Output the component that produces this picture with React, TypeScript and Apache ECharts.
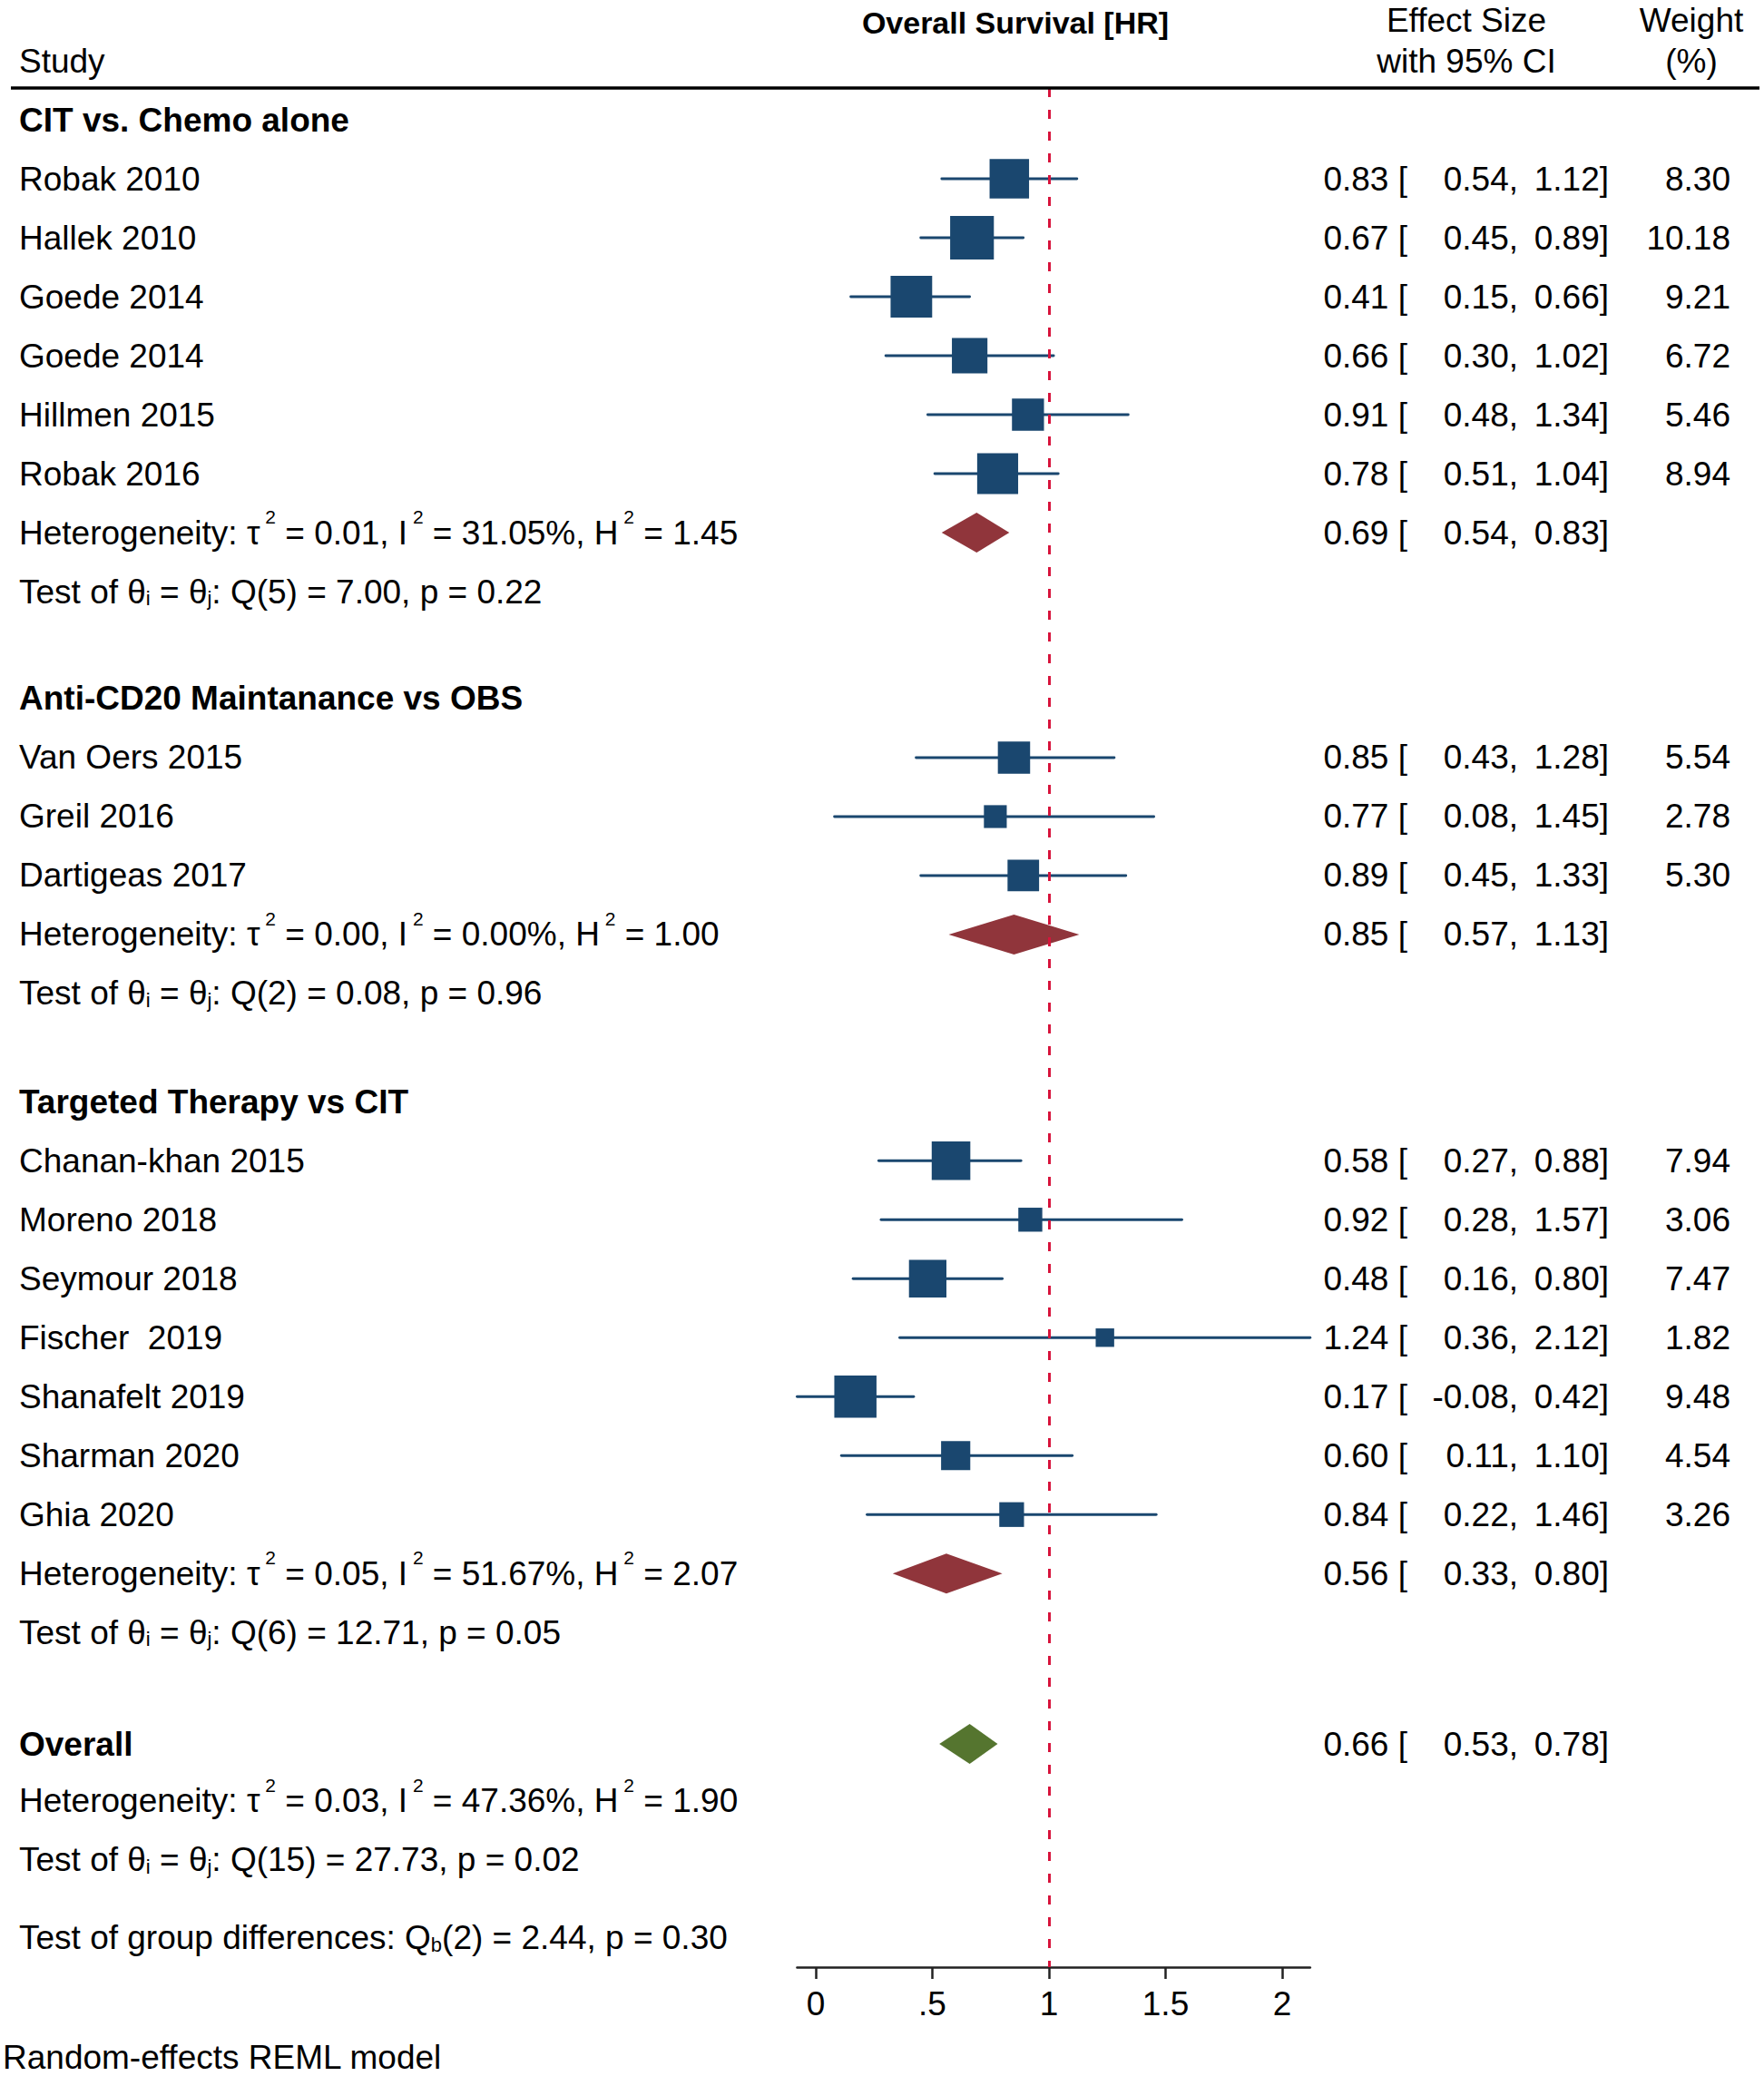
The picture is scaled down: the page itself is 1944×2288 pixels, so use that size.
import React, { useEffect, useRef } from 'react';
import * as echarts from 'echarts';

// ---------------- DATA ----------------
const groupNames = ['CIT vs. Chemo alone', 'Anti-CD20 Maintanance vs OBS', 'Targeted Therapy vs CIT'];

const studyNames = [
  'Robak 2010', 'Hallek 2010', 'Goede 2014', 'Goede 2014', 'Hillmen 2015', 'Robak 2016',
  'Van Oers 2015', 'Greil 2016', 'Dartigeas 2017',
  'Chanan-khan 2015', 'Moreno 2018', 'Seymour 2018', 'Fischer  2019', 'Shanafelt 2019', 'Sharman 2020', 'Ghia 2020',
];
const studyGroup = [0, 0, 0, 0, 0, 0, 1, 1, 1, 2, 2, 2, 2, 2, 2, 2];
const studyHR = [0.83, 0.67, 0.41, 0.66, 0.91, 0.78, 0.85, 0.77, 0.89, 0.58, 0.92, 0.48, 1.24, 0.17, 0.60, 0.84];
const studyLo = [0.54, 0.45, 0.15, 0.30, 0.48, 0.51, 0.43, 0.08, 0.45, 0.27, 0.28, 0.16, 0.36, -0.08, 0.11, 0.22];
const studyHi = [1.12, 0.89, 0.66, 1.02, 1.34, 1.04, 1.28, 1.45, 1.33, 0.88, 1.57, 0.80, 2.12, 0.42, 1.10, 1.46];
const studyWeight = [8.30, 10.18, 9.21, 6.72, 5.46, 8.94, 5.54, 2.78, 5.30, 7.94, 3.06, 7.47, 1.82, 9.48, 4.54, 3.26];

const subHR = [0.69, 0.85, 0.56];
const subLo = [0.54, 0.57, 0.33];
const subHi = [0.83, 1.13, 0.80];
const subTau2 = ['0.01', '0.00', '0.05'];
const subI2 = ['31.05', '0.00', '51.67'];
const subH2 = ['1.45', '1.00', '2.07'];
const subQdf = [5, 2, 6];
const subQ = ['7.00', '0.08', '12.71'];
const subP = ['0.22', '0.96', '0.05'];

const overallHR = 0.66;
const overallLo = 0.53;
const overallHi = 0.78;
const overallHet = ['0.03', '47.36', '1.90'];
const overallQdf = 15;
const overallQ = '27.73';
const overallP = '0.02';
const groupDiffDf = 2;
const groupDiffQ = '2.44';
const groupDiffP = '0.30';

const xTicks = [0, 0.5, 1, 1.5, 2];

// ---------------- LAYOUT ----------------
const W = 1944;
const H = 2288;
const ROW0_PX = 132;
const ROW_H = 65;
const groupHeaderRow = [0, 9.815, 16.65];
const overallRow = 27.54;
const overallHetRow = 28.5;
const overallTestRow = 29.5;
const groupDiffRow = 30.83;
const PLOT_TOP = 97;
const PLOT_BOTTOM = 2168;
const X_ZERO_PX = 899;
const X_UNIT_PX = 257;
const BOX_K = 15.1;

const FONT = '"Liberation Sans", Arial, Helvetica, sans-serif';
const FS = 37;
const NAVY = '#1A476F';
const MAROON = '#90353B';
const GREEN = '#55752F';
const RED = '#D7143C';

const COL_NAME = 21;
const COL_EST = 1551;
const COL_LO = 1673;
const COL_HI = 1773;
const COL_W = 1907;

const f2 = (v: number) => v.toFixed(2);

export default function App() {
  const ref = useRef<HTMLDivElement>(null);

  useEffect(() => {
    if (!ref.current) return;
    const chart = echarts.init(ref.current, null, { renderer: 'svg', width: W, height: H });

    const xMin = Math.min(...studyLo);
    const xMax = Math.max(...studyHi);

    // row positions
    const studyRow: number[] = [];
    const hetRow: number[] = [];
    const testRow: number[] = [];
    groupNames.forEach((_, g) => {
      let k = 0;
      studyNames.forEach((__, i) => {
        if (studyGroup[i] === g) {
          k += 1;
          studyRow[i] = groupHeaderRow[g] + k;
        }
      });
      hetRow[g] = groupHeaderRow[g] + k + 1;
      testRow[g] = groupHeaderRow[g] + k + 2;
    });

    type TItem = { x: number; row: number; text: string; align: 'left' | 'right' | 'center'; bold?: boolean; lh?: number };
    const items: TItem[] = [];
    const effectCols = (row: number, hr: number, lo: number, hi: number) => {
      items.push({ x: COL_EST, row, text: `${f2(hr)} [`, align: 'right' });
      items.push({ x: COL_LO, row, text: `${f2(lo)},`, align: 'right' });
      items.push({ x: COL_HI, row, text: `${f2(hi)}]`, align: 'right' });
    };
    const hetText = (t: string, i: string, h: string) =>
      `Heterogeneity: τ{sup| 2} = ${t}, I{sup| 2} = ${i}%, H{sup| 2} = ${h}`;
    const testText = (df: number, q: string, p: string) =>
      `Test of θ{sub|i} = θ{sub|j}: Q(${df}) = ${q}, p = ${p}`;
    const HET_LH = 56;

    groupNames.forEach((name, g) => {
      items.push({ x: COL_NAME, row: groupHeaderRow[g], text: name, align: 'left', bold: true });
      studyNames.forEach((sn, i) => {
        if (studyGroup[i] !== g) return;
        items.push({ x: COL_NAME, row: studyRow[i], text: sn, align: 'left' });
        effectCols(studyRow[i], studyHR[i], studyLo[i], studyHi[i]);
        items.push({ x: COL_W, row: studyRow[i], text: f2(studyWeight[i]), align: 'right' });
      });
      items.push({ x: COL_NAME, row: hetRow[g], text: hetText(subTau2[g], subI2[g], subH2[g]), align: 'left', lh: HET_LH });
      effectCols(hetRow[g], subHR[g], subLo[g], subHi[g]);
      items.push({ x: COL_NAME, row: testRow[g], text: testText(subQdf[g], subQ[g], subP[g]), align: 'left' });
    });
    items.push({ x: COL_NAME, row: overallRow, text: 'Overall', align: 'left', bold: true });
    effectCols(overallRow, overallHR, overallLo, overallHi);
    items.push({ x: COL_NAME, row: overallHetRow, text: hetText(overallHet[0], overallHet[1], overallHet[2]), align: 'left', lh: HET_LH });
    items.push({ x: COL_NAME, row: overallTestRow, text: testText(overallQdf, overallQ, overallP), align: 'left' });
    items.push({
      x: COL_NAME,
      row: groupDiffRow,
      text: `Test of group differences: Q{sub|b}(${groupDiffDf}) = ${groupDiffQ}, p = ${groupDiffP}`,
      align: 'left',
    });

    const rich = {
      sup: { fontSize: 21, verticalAlign: 'top', fontFamily: FONT },
      sub: { fontSize: 22, lineHeight: 27, verticalAlign: 'bottom', fontFamily: FONT },
    };

    const diamonds = [
      ...subHR.map((hr, g) => [subLo[g], hr, subHi[g], hetRow[g], 0]),
      [overallLo, overallHR, overallHi, overallRow, 1],
    ];

    const option: any = {
      animation: false,
      backgroundColor: '#ffffff',
      grid: [
        {
          left: X_ZERO_PX + xMin * X_UNIT_PX,
          width: (xMax - xMin) * X_UNIT_PX,
          top: PLOT_TOP,
          height: PLOT_BOTTOM - PLOT_TOP,
          containLabel: false,
          outerBoundsMode: 'none',
        },
        { left: 0, top: 0, width: W, height: H, containLabel: false, outerBoundsMode: 'none' },
      ],
      xAxis: [
        {
          gridIndex: 0,
          type: 'value',
          min: xMin,
          max: xMax,
          position: 'bottom',
          splitLine: { show: false },
          axisLine: { show: true, onZero: false, lineStyle: { color: '#222', width: 2.5 } },
          axisTick: { show: true, customValues: xTicks, length: 13, lineStyle: { color: '#222', width: 2.5 } },
          axisLabel: {
            show: true,
            customValues: xTicks,
            margin: 22,
            fontSize: FS,
            fontFamily: FONT,
            color: '#000',
            formatter: (v: number) => (v > 0 && v < 1 ? String(v).replace(/^0/, '') : String(v)),
          },
        },
        { gridIndex: 1, type: 'value', min: 0, max: W, show: false },
      ],
      yAxis: [
        {
          gridIndex: 0,
          type: 'value',
          inverse: true,
          min: (PLOT_TOP - ROW0_PX) / ROW_H,
          max: (PLOT_BOTTOM - ROW0_PX) / ROW_H,
          show: false,
        },
        {
          gridIndex: 1,
          type: 'value',
          inverse: true,
          min: -ROW0_PX / ROW_H,
          max: (H - ROW0_PX) / ROW_H,
          show: false,
        },
      ],
      series: [
        {
          type: 'custom',
          name: 'ci',
          xAxisIndex: 0,
          yAxisIndex: 0,
          z: 1,
          silent: true,
          data: studyHR.map((_, i) => [studyLo[i], studyHi[i], studyRow[i]]),
          encode: { x: [0, 1], y: 2 },
          renderItem: (params: any, api: any) => {
            const a = api.coord([api.value(0), api.value(2)]);
            const b = api.coord([api.value(1), api.value(2)]);
            return {
              type: 'line',
              shape: { x1: a[0], y1: a[1], x2: b[0], y2: b[1] },
              style: { stroke: NAVY, lineWidth: 2.8, lineCap: 'round' },
            };
          },
        },
        {
          type: 'scatter',
          name: 'ref',
          xAxisIndex: 0,
          yAxisIndex: 0,
          z: 2,
          silent: true,
          symbolSize: 0,
          data: [[1, 0]],
          markLine: {
            silent: true,
            symbol: ['none', 'none'],
            label: { show: false },
            lineStyle: { color: RED, width: 3, type: [10, 14] },
            data: [{ xAxis: 1 }],
          },
        },
        {
          type: 'scatter',
          name: 'studies',
          xAxisIndex: 0,
          yAxisIndex: 0,
          z: 3,
          silent: true,
          symbol: 'rect',
          symbolSize: (v: number[]) => BOX_K * Math.sqrt(v[2]),
          itemStyle: { color: NAVY, opacity: 1 },
          data: studyHR.map((hr, i) => [hr, studyRow[i], studyWeight[i]]),
        },
        {
          type: 'custom',
          name: 'pooled',
          xAxisIndex: 0,
          yAxisIndex: 0,
          z: 4,
          silent: true,
          data: diamonds,
          encode: { x: [0, 1, 2], y: 3 },
          renderItem: (params: any, api: any) => {
            const row = api.value(3);
            const l = api.coord([api.value(0), row]);
            const m = api.coord([api.value(1), row]);
            const r = api.coord([api.value(2), row]);
            const hh = 22;
            return {
              type: 'polygon',
              shape: { points: [[l[0], l[1]], [m[0], m[1] - hh], [r[0], r[1]], [m[0], m[1] + hh]] },
              style: { fill: api.value(4) === 1 ? GREEN : MAROON },
            };
          },
        },
        {
          type: 'custom',
          name: 'table',
          xAxisIndex: 1,
          yAxisIndex: 1,
          z: 5,
          silent: true,
          data: items.map((t, i) => [t.x, t.row, i]),
          renderItem: (params: any, api: any) => {
            const t = items[params.dataIndex];
            const p = api.coord([t.x, t.row]);
            return {
              type: 'text',
              x: p[0],
              y: p[1],
              style: {
                text: t.text,
                fill: '#000',
                fontSize: FS,
                fontFamily: FONT,
                fontWeight: t.bold ? 'bold' : 'normal',
                align: t.align,
                verticalAlign: 'middle',
                lineHeight: t.lh || FS,
                rich,
              },
            };
          },
        },
      ],
      graphic: [
        {
          type: 'line',
          silent: true,
          shape: { x1: 12, y1: PLOT_TOP, x2: 1939, y2: PLOT_TOP },
          style: { stroke: '#000', lineWidth: 3.5 },
          z: 10,
        },
        {
          type: 'text', x: 1119, y: 25, silent: true,
          style: { text: 'Overall Survival [HR]', fontSize: 34, fontWeight: 'bold', fontFamily: FONT, fill: '#000', align: 'center', verticalAlign: 'middle' },
        },
        {
          type: 'text', x: COL_NAME, y: 67, silent: true,
          style: { text: 'Study', fontSize: FS, fontFamily: FONT, fill: '#000', align: 'left', verticalAlign: 'middle' },
        },
        {
          type: 'text', x: 1616, y: 22, silent: true,
          style: { text: 'Effect Size', fontSize: FS, fontFamily: FONT, fill: '#000', align: 'center', verticalAlign: 'middle' },
        },
        {
          type: 'text', x: 1616, y: 67, silent: true,
          style: { text: 'with 95% CI', fontSize: FS, fontFamily: FONT, fill: '#000', align: 'center', verticalAlign: 'middle' },
        },
        {
          type: 'text', x: 1864, y: 22, silent: true,
          style: { text: 'Weight', fontSize: FS, fontFamily: FONT, fill: '#000', align: 'center', verticalAlign: 'middle' },
        },
        {
          type: 'text', x: 1864, y: 67, silent: true,
          style: { text: '(%)', fontSize: FS, fontFamily: FONT, fill: '#000', align: 'center', verticalAlign: 'middle' },
        },
        {
          type: 'text', x: 3, y: 2267, silent: true,
          style: { text: 'Random-effects REML model', fontSize: FS, fontFamily: FONT, fill: '#000', align: 'left', verticalAlign: 'middle' },
        },
      ],
    };

    chart.setOption(option);
    return () => {
      chart.dispose();
    };
  }, []);

  return (
    <div
      ref={ref}
      style={{ position: 'absolute', left: 0, top: 0, width: W, height: H, background: '#fff' }}
    />
  );
}
